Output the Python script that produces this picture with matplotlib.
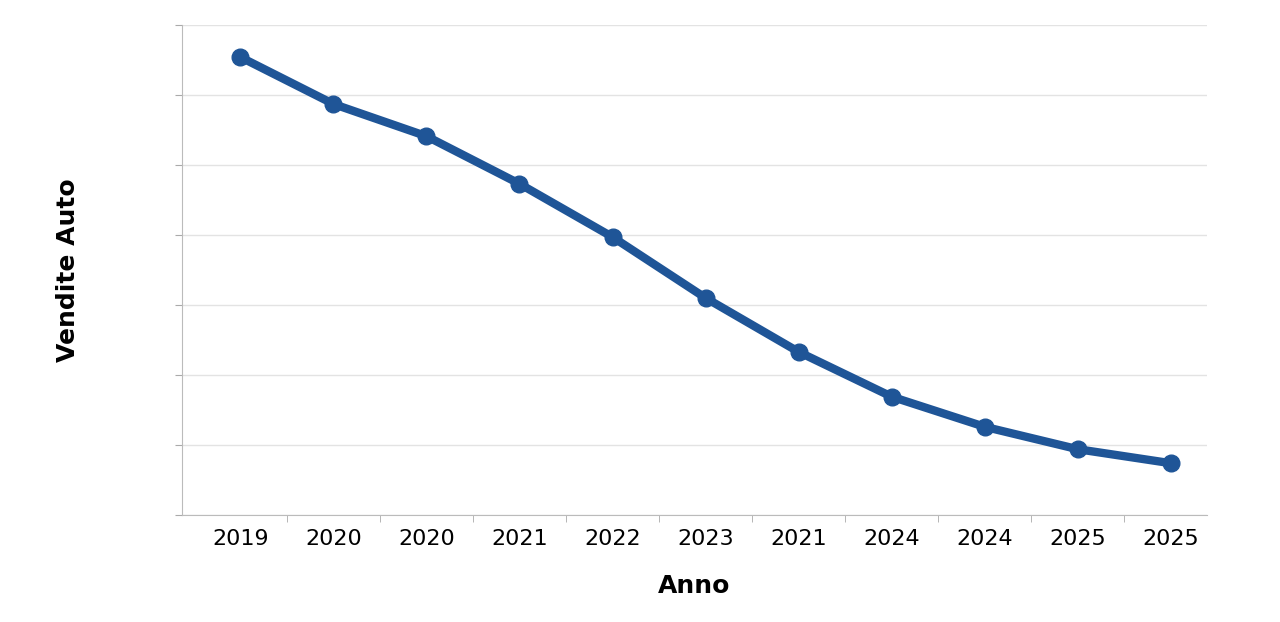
import numpy as np
import matplotlib.pyplot as plt
from matplotlib.ticker import MultipleLocator

# tick labels as printed on the chart (repeated years are in the original)
anni = ['2019', '2020', '2020', '2021', '2022', '2023', '2021', '2024', '2024', '2025', '2025']
vendite = [6.54, 5.87, 5.41, 4.73, 3.97, 3.10, 2.33, 1.69, 1.26, 0.94, 0.74]

fig = plt.figure(figsize=(12.8, 6.22), dpi=100)
ax = fig.add_axes([0.142, 0.172, 0.801, 0.788])

x = np.arange(len(anni))
ax.plot(x, vendite, color='#1f5597', lw=6, marker='o', ms=12, zorder=3,
        solid_capstyle='round')

ax.set_xlim(-0.63, 10.39)
ax.set_ylim(0, 7)
ax.set_xticks(x)
ax.set_xticklabels(anni, fontsize=16)
ax.xaxis.set_minor_locator(MultipleLocator(1))
ax.set_xticks(x[:-1] + 0.5, minor=True)
ax.yaxis.set_major_locator(MultipleLocator(1))
ax.set_yticklabels([])
ax.tick_params(axis='x', which='major', length=0, pad=10)
ax.tick_params(axis='x', which='minor', length=5, color='#aaaaaa')
ax.tick_params(axis='y', length=5, color='#aaaaaa')
ax.grid(axis='y', color='#e3e3e3', lw=1)
for s in ['top', 'right']:
    ax.spines[s].set_visible(False)
for s in ['left', 'bottom']:
    ax.spines[s].set_color('#bbbbbb')

ax.set_xlabel('Anno', fontsize=18, fontweight='bold', labelpad=18)
ax.set_ylabel('Vendite Auto', fontsize=18, fontweight='bold', labelpad=65)

fig.savefig('out.png', dpi=100)
